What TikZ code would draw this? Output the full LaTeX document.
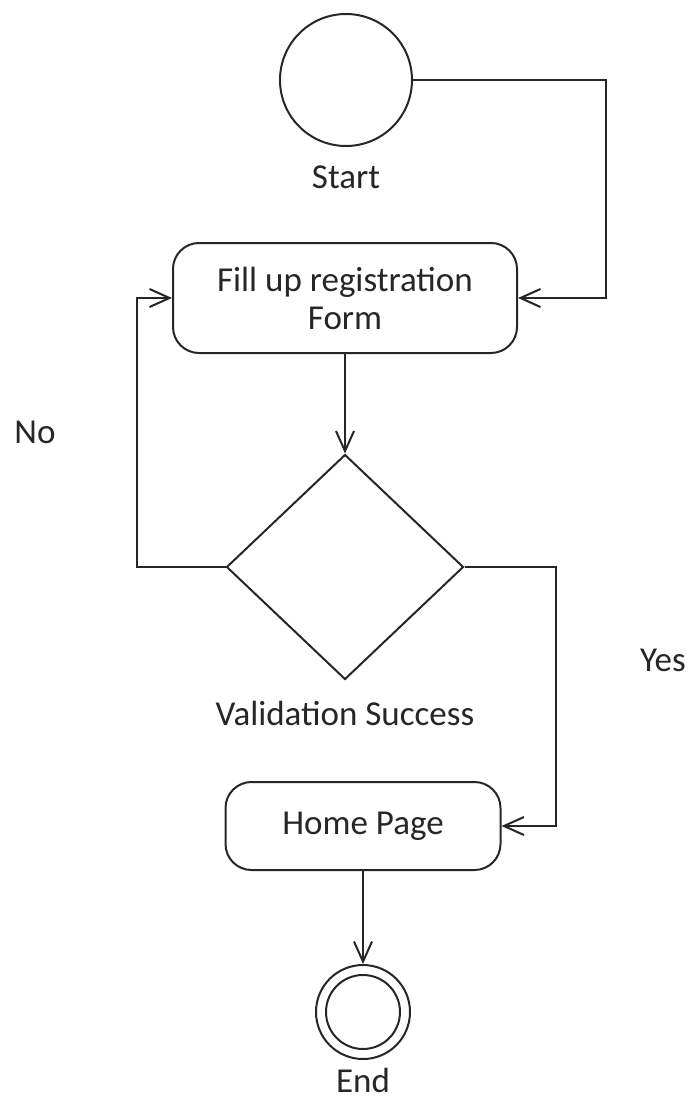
\documentclass[tikz,border=0pt]{standalone}
\usepackage{fontspec}
\setmainfont{Carlito}
\usetikzlibrary{shapes.geometric,arrows.meta}
\begin{document}
\begin{tikzpicture}[x=1pt,y=-1pt,
  every node/.style={font=\fontsize{35}{42}\selectfont, text=black!85},
  arr/.style={line width=2pt, draw=black!85, -{Straight Barb[length=20pt,width=18pt,line width=2pt]}},
  act/.style={draw=black!85, line width=2pt, rounded corners=26pt, align=center, inner sep=0pt},
  lbl/.style={}
]
\useasboundingbox (0,0) rectangle (688,1099);
\node[draw=black!85, circle, line width=2pt, minimum size=132pt, inner sep=0pt] (start) at (346,80) {};
\node[lbl] (startl) at (346,177) {Start};
\node[act, minimum width=344pt, minimum height=110pt] (fill) at (345,298) {Fill up registration\\[-4pt]Form};
\node[draw=black!85, diamond, line width=2pt, minimum width=237pt, minimum height=225pt, inner sep=0pt, aspect=1.05] (dec) at (345,567) {};
\node[lbl] (decl) at (345,713) {Validation Success};
\node[act, minimum width=275pt, minimum height=88pt] (home) at (363,826) {Home Page};
\node[draw=black!85, circle, line width=2pt, minimum size=94pt, inner sep=0pt] (end) at (363,1012) {};
\node[draw=black!85, circle, line width=2pt, minimum size=74pt, inner sep=0pt] (endin) at (363,1012) {};
\node[lbl] (endl) at (363,1080) {End};
\node[lbl] (no) at (35,432) {No};
\node[lbl] (yes) at (663,660) {Yes};
\coordinate (c1) at (606,80);
\coordinate (c2) at (606,298);
\coordinate (c3) at (137,567);
\coordinate (c4) at (137,298);
\coordinate (c5) at (556,567);
\coordinate (c6) at (556,826);
\draw[arr] (start.east) -- (c1) -- (c2) -- (fill.east);
\draw[arr] (fill.south) -- (dec.north);
\draw[arr] (dec.west) -- (c3) -- (c4) -- (fill.west);
\draw[arr] (dec.east) -- (c5) -- (c6) -- (home.east);
\draw[arr] (home.south) -- (end.north);
\end{tikzpicture}
\end{document}
